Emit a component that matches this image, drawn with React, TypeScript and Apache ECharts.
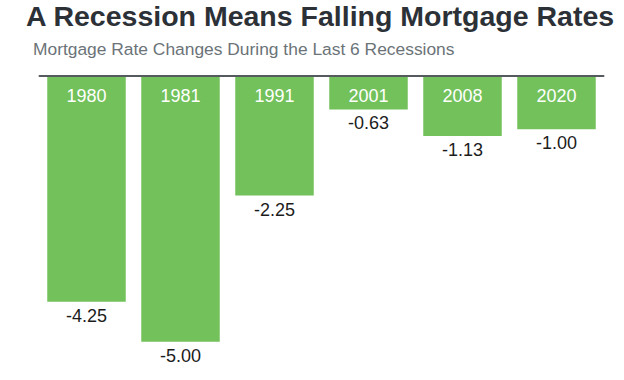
import React, { useEffect, useRef } from "react";
import * as echarts from "echarts";

const years = ["1980", "1981", "1991", "2001", "2008", "2020"];
const rateChanges = [-4.25, -5.0, -2.25, -0.63, -1.13, -1.0];
const titleText = "A Recession Means Falling Mortgage Rates";
const subtitleText = "Mortgage Rate Changes During the Last 6 Recessions";

export default function App() {
  const ref = useRef<HTMLDivElement>(null);
  useEffect(() => {
    if (!ref.current) return;
    const chart = echarts.init(ref.current, undefined, { renderer: "svg" });
    chart.setOption({
      animation: false,
      backgroundColor: "#ffffff",
      title: [
        {
          text: titleText,
          left: 26,
          top: 0,
          padding: 0,
          textStyle: {
            fontFamily: "Liberation Sans",
            fontWeight: "bold",
            fontSize: 28.5,
            lineHeight: 32,
            color: "#2c3137",
          },
        },
        {
          text: subtitleText,
          left: 28,
          top: 35,
          textStyle: {
            fontFamily: "Liberation Sans",
            fontWeight: "normal",
            fontSize: 17.4,
            color: "#6b7378",
          },
        },
      ],
      grid: { left: 39.5, right: 20.5, top: 76, bottom: 38.3, containLabel: false },
      xAxis: {
        type: "category",
        position: "top",
        data: years,
        axisLine: { show: true, lineStyle: { color: "#555a5e", width: 2 } },
        axisTick: { show: false },
        axisLabel: {
          inside: true,
          margin: 11,
          color: "#ffffff",
          fontSize: 18,
          fontFamily: "Liberation Sans",
        },
        z: 10,
      },
      yAxis: {
        type: "value",
        min: -5,
        max: 0,
        show: false,
        splitLine: { show: false },
      },
      series: [
        {
          type: "bar",
          data: rateChanges,
          barCategoryGap: "16.5%",
          itemStyle: { color: "#72c15b" },
          label: {
            show: true,
            position: "bottom",
            distance: 5,
            fontSize: 18,
            fontFamily: "Liberation Sans",
            color: "#1c1c1c",
            formatter: (p: any) => Number(p.value).toFixed(2),
          },
        },
      ],
    });
    return () => chart.dispose();
  }, []);
  return <div ref={ref} style={{ width: 624, height: 380, position: "absolute", left: 0, top: 0 }} />;
}
